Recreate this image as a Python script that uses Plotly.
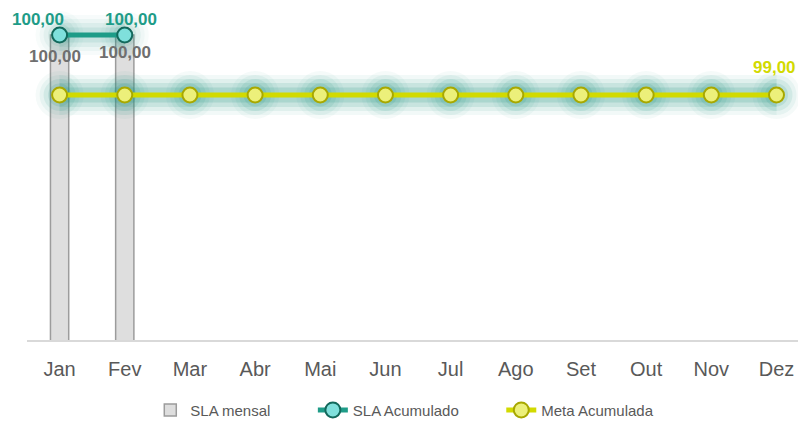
import plotly.graph_objects as go

months = ["Jan", "Fev", "Mar", "Abr", "Mai", "Jun", "Jul", "Ago", "Set", "Out", "Nov", "Dez"]
sla_mensal = [100, 100, None, None, None, None, None, None, None, None, None, None]
sla_acumulado = [100, 100, None, None, None, None, None, None, None, None, None, None]
meta_acumulada = [99, 99, 99, 99, 99, 99, 99, 99, 99, 99, 99, 99]

FONT = "Liberation Sans Narrow, Arial Narrow, Liberation Sans, Arial, sans-serif"
TEAL = "#1e9c88"
YEL = "#d2da00"
GRAY = "#595959"

fig = go.Figure()

fig.add_trace(go.Bar(
    x=months, y=sla_mensal, name="SLA mensal         ", width=0.28,
    marker=dict(color="#dedede", line=dict(color="#9c9c9c", width=1.5)),
))

# glow layers for lines
for w, a in [(40, 0.06), (32, 0.09), (24, 0.13), (15, 0.18)]:
    fig.add_trace(go.Scatter(x=months, y=meta_acumulada, mode="lines+markers",
                             line=dict(color=f"rgba(40,150,135,{a})", width=w),
                             marker=dict(size=w + 8, color=f"rgba(40,150,135,{a*0.8})"),
                             showlegend=False, hoverinfo="skip"))
    fig.add_trace(go.Scatter(x=months, y=sla_acumulado, mode="lines+markers",
                             line=dict(color=f"rgba(40,150,135,{a*0.6})", width=w),
                             marker=dict(size=w + 8, color=f"rgba(40,150,135,{a*0.5})"),
                             showlegend=False, hoverinfo="skip"))

fig.add_trace(go.Scatter(
    x=months, y=sla_acumulado, name="SLA Acumulado         ", mode="lines+markers",
    line=dict(color=TEAL, width=5),
    marker=dict(size=15, color="#7fe0dc", line=dict(color="#13695c", width=2)),
))
fig.add_trace(go.Scatter(
    x=months, y=meta_acumulada, name="Meta Acumulada", mode="lines+markers",
    line=dict(color=YEL, width=5),
    marker=dict(size=15, color="#ecf07a", line=dict(color="#a8a800", width=2)),
))

def fmt(v):
    return f"{v:.2f}".replace(".", ",")

teal_xshift = [-22, 6]
gray_xshift = [-5, 0]
gray_yshift = [-22, -18]
annotations = []
i = 0
for m, v in zip(months, sla_acumulado):
    if v is not None:
        annotations.append(dict(x=m, y=v, text=fmt(v), showarrow=False, yshift=15, xshift=teal_xshift[i],
                                font=dict(family=FONT, size=17, color=TEAL, weight="bold")))
        i += 1
i = 0
for m, v in zip(months, sla_mensal):
    if v is not None:
        annotations.append(dict(x=m, y=v, text=fmt(v), showarrow=False, yshift=gray_yshift[i], xshift=gray_xshift[i],
                                font=dict(family=FONT, size=17, color="#6f6f6f", weight="bold")))
        i += 1
annotations.append(dict(x=months[-1], y=meta_acumulada[-1], text=fmt(meta_acumulada[-1]), showarrow=False,
                        yshift=27, xshift=-2, font=dict(family=FONT, size=17, color=YEL, weight="bold")))

fig.update_layout(
    width=798, height=422,
    margin=dict(l=27, r=0, t=0, b=82, autoexpand=False),
    paper_bgcolor="white", plot_bgcolor="white",
    barmode="overlay",
    annotations=annotations,
    showlegend=True,
    legend=dict(orientation="h", x=0.49, xanchor="center", yref="container", y=0.028, yanchor="middle",
                font=dict(family=FONT, size=15, color=GRAY),
                traceorder="normal"),
    xaxis=dict(type="category", range=[-0.5, 11.33], showgrid=False, showline=True,
               linecolor="#d9d9d9", linewidth=2, ticks="", ticklabelstandoff=10,
               tickfont=dict(family=FONT, size=20, color=GRAY)),
    yaxis=dict(range=[94.917, 100.583], visible=False, showgrid=False),
)

fig.write_html("out.html", config={"displayModeBar": False},
               post_script="document.body.style.margin='0';document.body.style.overflow='hidden';")
